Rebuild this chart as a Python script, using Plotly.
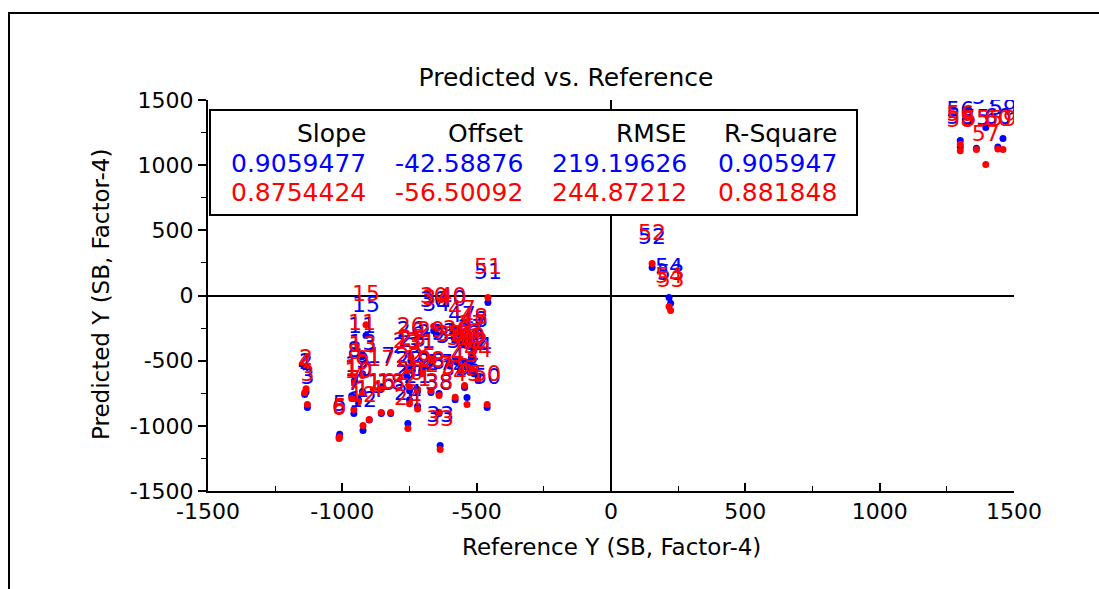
import plotly.graph_objects as go

# ---------------- data ----------------
sample_labels = [str(i) for i in range(1, 61)]
reference_y = [
    -965, -1135, -1130, -1140, -1010, -1012, -957, -955, -925, -940,
    -927, -923, -925, -900, -912, -855, -855, -820, -720, -750,
    -720, -750, -760, -756, -740, -745, -640, -670, -670, -660,
    -705, -600, -636, -650, -580, -575, -520, -640, -560, -590,
    -525, -510, -545, -495, -536, -540, -555, -510, -520, -461,
    -458, 153, 222, 216, 1360, 1300, 1395, 1300, 1459, 1440,
]
predicted_blue = [
    -770, -740, -860, -760, -1065, -1085, -905, -655, -737, -800,
    -470, -1036, -600, -955, -307, -905, -700, -905, -735, -800,
    -850, -730, -620, -982, -575, -500, -752, -745, -520, -270,
    -580, -540, -1151, -300, -800, -510, -480, -905, -580, -260,
    -570, -600, -706, -620, -783, -530, -380, -420, -560, -859,
    -54, 215, -60, -15, 1130, 1190, 1289, 1140, 1205, 1140,
]
predicted_red = [
    -790, -715, -836, -745, -1085, -1097, -875, -670, -752, -815,
    -445, -997, -614, -951, -225, -898, -720, -898, -720, -830,
    -870, -700, -580, -1020, -560, -470, -767, -730, -500, -235,
    -600, -525, -1182, -255, -780, -490, -450, -895, -560, -240,
    -590, -580, -690, -650, -836, -510, -335, -400, -540, -836,
    -15, 245, -115, -84, 1120, 1160, 1005, 1110, 1120, 1125,
]

tick_values = [-1500, -1000, -500, 0, 500, 1000, 1500]
tick_labels = ["-1500", "-1000", "-500", "0", "500", "1000", "1500"]

stat_headers = ["Slope", "Offset", "RMSE", "R-Square"]
stats_blue = ["0.9059477", "-42.58876", "219.19626", "0.905947"]
stats_red = ["0.8754424", "-56.50092", "244.87212", "0.881848"]

BLUE = "#0000FF"
RED = "#FF0000"
FONT = "DejaVu Sans"

fig = go.Figure()

# markers
for ys, col in [(predicted_blue, BLUE), (predicted_red, RED)]:
    fig.add_trace(go.Scatter(
        x=reference_y, y=ys, mode="markers",
        marker=dict(size=7, color=col, line=dict(width=0)),
        hoverinfo="skip", showlegend=False, cliponaxis=True,
    ))
# labels (transparent large markers push the text up above the points)
for ys, col in [(predicted_blue, BLUE), (predicted_red, RED)]:
    fig.add_trace(go.Scatter(
        x=reference_y, y=ys, mode="markers+text", text=sample_labels,
        textposition="top center",
        textfont=dict(family=FONT, size=22, color=col),
        marker=dict(size=27, color="rgba(0,0,0,0)", line=dict(width=0)),
        hoverinfo="skip", showlegend=False, cliponaxis=True,
    ))

L, R, T, B = 208, 85, 100, 98
W, H = 1099, 589
pw, ph = W - L - R, H - T - B


def px2paper_x(px):
    return (px - L) / pw


def py2paper_y(py):
    return (H - B - py) / ph


shapes = [
    # outer frame
    dict(type="rect", xref="paper", yref="paper",
         x0=px2paper_x(9), x1=px2paper_x(1200), y0=py2paper_y(800), y1=py2paper_y(13),
         line=dict(color="black", width=2), fillcolor="rgba(0,0,0,0)", layer="below"),
    # statistics box
    dict(type="rect", xref="paper", yref="paper",
         x0=px2paper_x(210), x1=px2paper_x(857), y0=py2paper_y(215), y1=py2paper_y(110),
         line=dict(color="black", width=2), fillcolor="white", layer="above"),
]

annotations = []
col_right = [368, 525, 689, 839]
row_y = [133, 163, 192]
for row, (vals, col) in enumerate([(stat_headers, "black"), (stats_blue, BLUE), (stats_red, RED)]):
    for c, v in enumerate(vals):
        annotations.append(dict(
            text=v, xref="paper", yref="paper",
            x=px2paper_x(col_right[c]), y=py2paper_y(row_y[row]),
            xanchor="right", yanchor="middle", showarrow=False,
            font=dict(family=FONT, size=25, color=col),
        ))

annotations.append(dict(
    text="Reference Y (SB, Factor-4)", xref="paper", yref="paper",
    x=px2paper_x(611), y=py2paper_y(547), xanchor="center", yanchor="middle",
    showarrow=False, font=dict(family=FONT, size=23, color="black")))
annotations.append(dict(
    text="Predicted Y (SB, Factor-4)", xref="paper", yref="paper",
    x=px2paper_x(101), y=py2paper_y(295), xanchor="center", yanchor="middle",
    textangle=-90, showarrow=False, font=dict(family=FONT, size=23, color="black")))

fig.update_layout(
    width=W, height=H,
    margin=dict(l=L, r=R, t=T, b=B, autoexpand=False),
    paper_bgcolor="white", plot_bgcolor="white",
    title=dict(text="Predicted vs. Reference", x=566 / W, xref="container",
               xanchor="center", y=1 - 77 / H, yanchor="middle",
               font=dict(family=FONT, size=25, color="black")),
    shapes=shapes, annotations=annotations,
    showlegend=False,
)
fig.update_xaxes(
    range=[-1500, 1500], tickvals=tick_values, ticktext=tick_labels,
    showgrid=False, zeroline=True, zerolinecolor="black", zerolinewidth=2,
    showline=True, linecolor="black", linewidth=2,
    ticks="inside", ticklen=8, tickwidth=2, tickcolor="black",
    minor=dict(ticks="inside", ticklen=5, tickwidth=1, tickcolor="black", dtick=250, showgrid=False),
    tickfont=dict(family=FONT, size=22, color="black"), automargin=False,
)
fig.update_yaxes(
    range=[-1500, 1500], tickvals=tick_values, ticktext=tick_labels,
    showgrid=False, zeroline=True, zerolinecolor="black", zerolinewidth=2,
    showline=True, linecolor="black", linewidth=2,
    ticks="outside", ticklen=8, tickwidth=2, tickcolor="black",
    minor=dict(ticks="outside", ticklen=5, tickwidth=1, tickcolor="black", dtick=250, showgrid=False),
    tickfont=dict(family=FONT, size=22, color="black"), automargin=False,
)

fig.write_html("out.html")
